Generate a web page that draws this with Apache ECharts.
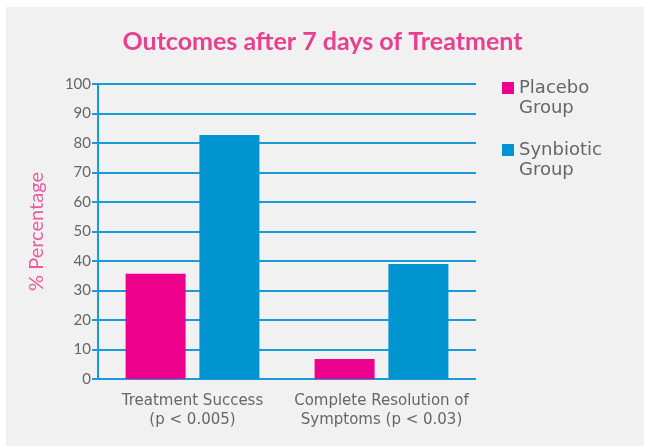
<!DOCTYPE html>
<html>
<head>
<meta charset="utf-8">
<script src="https://cdn.jsdelivr.net/npm/echarts@6/dist/echarts.min.js"></script>
<style>html,body{margin:0;padding:0;background:#fff;}#c{width:645px;height:446px;}</style>
</head>
<body>
<div id="c"></div>
<script>
const categories = ['Treatment Success\n(p < 0.005)', 'Complete Resolution of\nSymptoms (p < 0.03)'];
const placebo = [35.7, 6.8];
const synbiotic = [82.7, 39];
const seriesNames = ['Placebo\nGroup', 'Synbiotic\nGroup'];
const yTicks = [0, 10, 20, 30, 40, 50, 60, 70, 80, 90, 100];

const FONT = 'Lato, "DejaVu Sans", sans-serif';
const FONT2 = '"DejaVu Sans", sans-serif';
const chart = echarts.init(document.getElementById('c'));
chart.setOption({
  backgroundColor: '#ffffff',
  animation: false,
  graphic: [{
    type: 'rect', z: -10, silent: true,
    shape: { x: 6, y: 7, width: 638, height: 439 },
    style: { fill: '#f1f1f1' }
  }],
  title: {
    text: 'Outcomes after 7 days of Treatment',
    left: 'center', top: 24,
    textStyle: { color: '#e8408f', fontSize: 25, fontWeight: 'bold', fontFamily: FONT }
  },
  legend: {
    orient: 'vertical', left: 502, top: 78, itemWidth: 12, itemHeight: 32, itemGap: 22,
    padding: 0,
    icon: 'path://M0,0L12,0L12,12L0,12Z M0,32L0.01,32L0,31.99Z',
    data: seriesNames,
    textStyle: { color: '#666', fontSize: 18, fontFamily: FONT2, lineHeight: 20 }
  },
  grid: { left: 98, right: 169, top: 84, bottom: 67 },
  xAxis: {
    type: 'category', data: categories,
    axisLine: { show: false }, axisTick: { show: false },
    axisLabel: { interval: 0, color: '#666', fontSize: 15, fontFamily: FONT2, lineHeight: 19, margin: 13 }
  },
  yAxis: {
    type: 'value', min: 0, max: 100, interval: 10,
    name: '% Percentage', nameLocation: 'middle', nameGap: 51, nameRotate: 90,
    nameTextStyle: { color: '#ee5aa0', fontSize: 20, fontFamily: FONT },
    axisLine: { show: true, lineStyle: { color: '#1a9bd7', width: 2 } },
    axisTick: { show: true, length: 6, lineStyle: { color: '#1a9bd7', width: 2 } },
    axisLabel: { color: '#666', fontSize: 15, fontFamily: FONT, margin: 7,
      formatter: v => yTicks.includes(v) ? String(v) : '' },
    splitLine: { lineStyle: { color: '#1a9bd7', width: 2 } }
  },
  series: [
    { name: seriesNames[0], type: 'bar', data: placebo, barWidth: 60, barGap: '23%',
      itemStyle: { color: '#ec008c' } },
    { name: seriesNames[1], type: 'bar', data: synbiotic, barWidth: 60,
      itemStyle: { color: '#0094d0' } }
  ]
});
</script>
</body>
</html>
